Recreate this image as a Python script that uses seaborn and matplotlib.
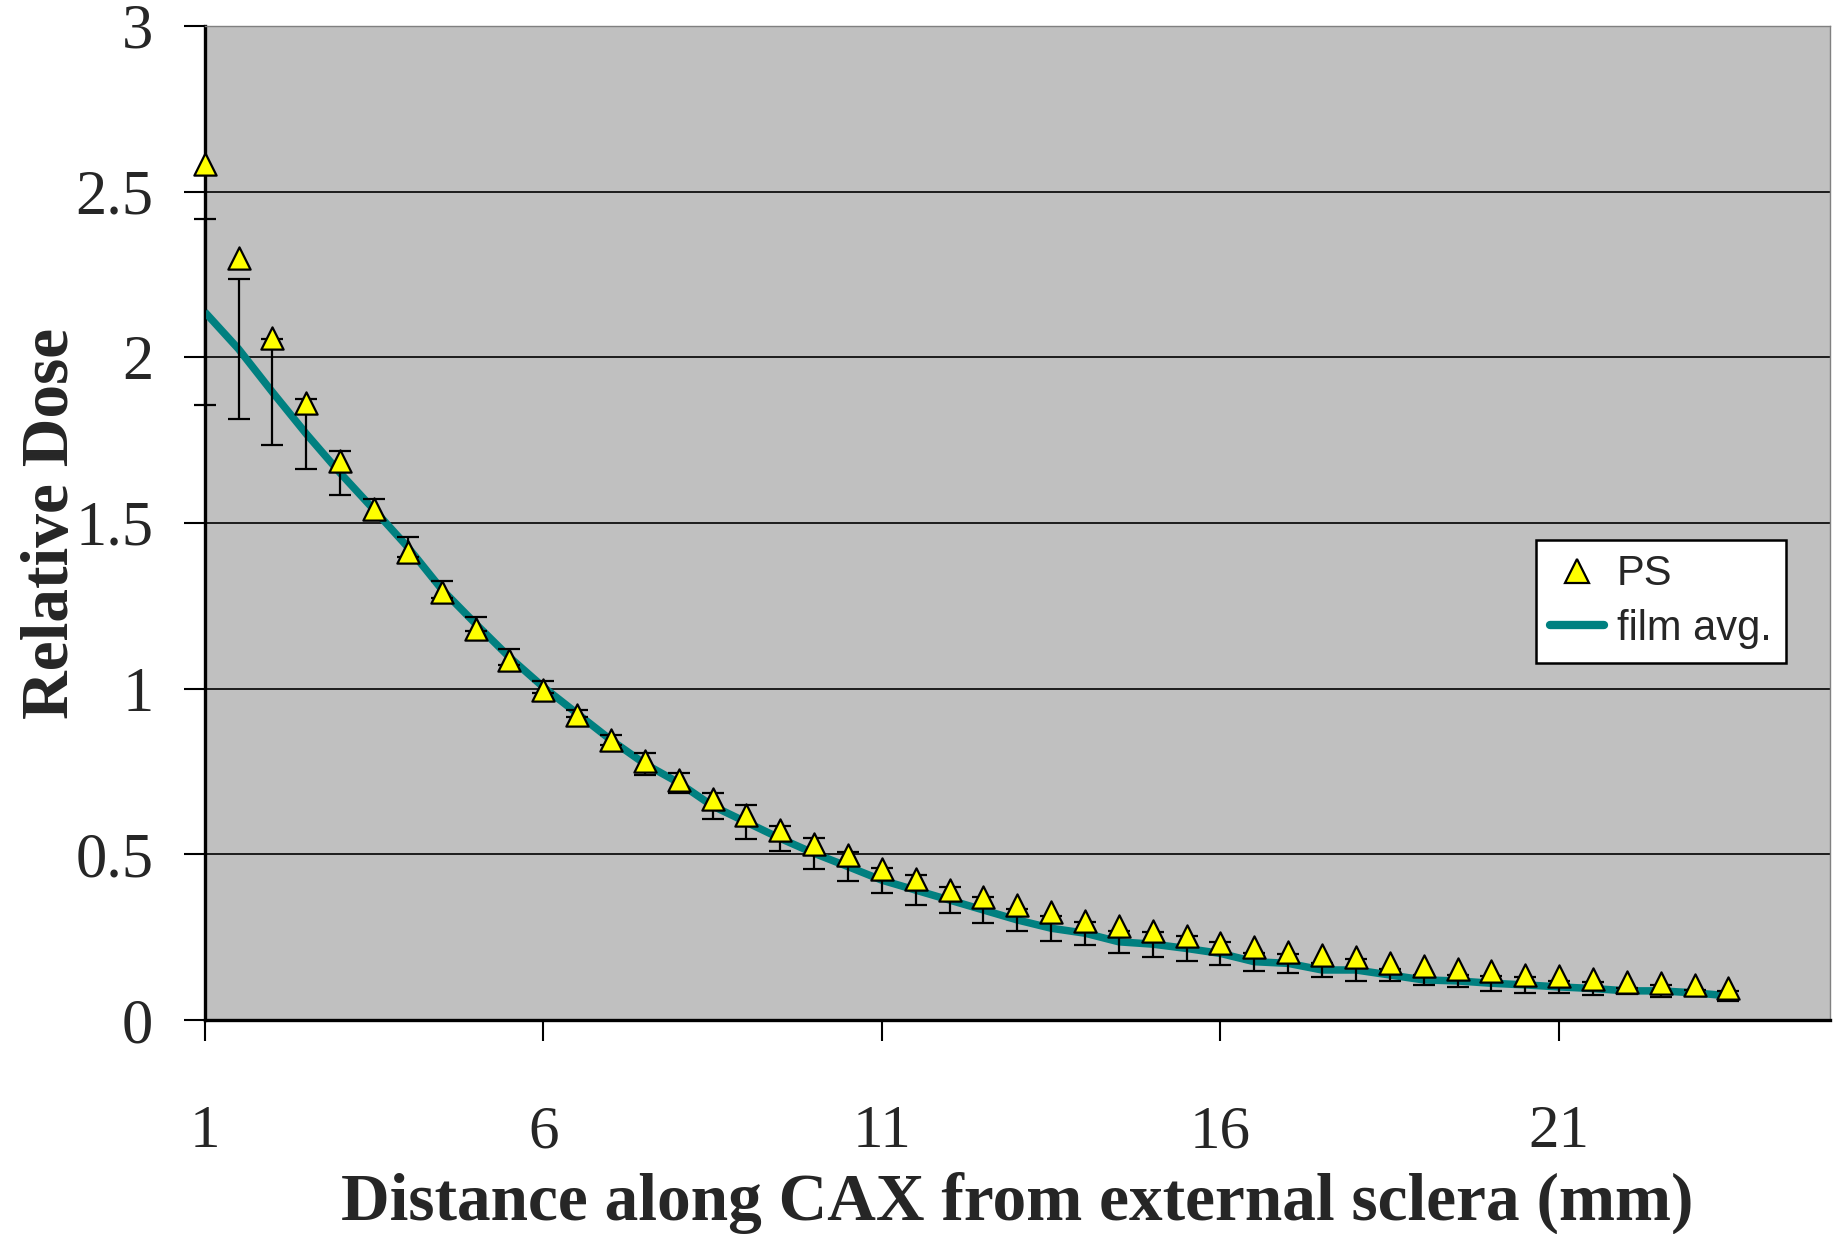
import matplotlib
matplotlib.use("Agg")
import matplotlib.pyplot as plt
import seaborn as sns
import pandas as pd
from matplotlib.lines import Line2D

# ---- data ----
distance = [1, 1.5, 2, 2.5, 3, 3.5, 4, 4.5, 5, 5.5, 6, 6.5, 7, 7.5, 8, 8.5, 9, 9.5,
            10, 10.5, 11, 11.5, 12, 12.5, 13, 13.5, 14, 14.5, 15, 15.5, 16, 16.5,
            17, 17.5, 18, 18.5, 19, 19.5, 20, 20.5, 21, 21.5, 22, 22.5, 23, 23.5]
ps = [2.582, 2.299, 2.057, 1.861, 1.688, 1.541, 1.411, 1.292, 1.181, 1.086, 0.997,
      0.919, 0.846, 0.782, 0.724, 0.666, 0.619, 0.573, 0.532, 0.499, 0.455, 0.425,
      0.393, 0.371, 0.347, 0.326, 0.299, 0.283, 0.269, 0.254, 0.232, 0.221, 0.206,
      0.196, 0.191, 0.172, 0.163, 0.154, 0.148, 0.136, 0.132, 0.124, 0.114, 0.112,
      0.105, 0.098]
film_avg = [2.137, 2.025, 1.895, 1.769, 1.651, 1.540, 1.427, 1.300, 1.196, 1.095,
            1.005, 0.925, 0.845, 0.773, 0.716, 0.646, 0.597, 0.548, 0.503, 0.463,
            0.422, 0.392, 0.362, 0.332, 0.302, 0.277, 0.262, 0.236, 0.229, 0.216,
            0.201, 0.176, 0.171, 0.151, 0.151, 0.136, 0.121, 0.118, 0.111, 0.106,
            0.100, 0.095, 0.088, 0.088, 0.082, 0.073]
film_err = [0.28, 0.21, 0.16, 0.105, 0.067, 0.032, 0.030, 0.025, 0.021, 0.024,
            0.018, 0.010, 0.015, 0.034, 0.030, 0.040, 0.051, 0.037, 0.046, 0.043,
            0.038, 0.045, 0.039, 0.038, 0.032, 0.038, 0.035, 0.033, 0.038, 0.037,
            0.034, 0.027, 0.028, 0.020, 0.032, 0.017, 0.014, 0.018, 0.023, 0.024,
            0.018, 0.020, 0.010, 0.018, 0.010, 0.015]
x_ticks = [1, 6, 11, 16, 21]
y_ticks = [0, 0.5, 1, 1.5, 2, 2.5, 3]

df = pd.DataFrame({"distance": distance, "PS": ps, "film": film_avg, "err": film_err})

sns.set_theme(style="white")
plt.rcParams["font.family"] = ["Liberation Serif", "DejaVu Serif"]

fig = plt.figure(figsize=(18.34, 12.34), dpi=100)
ax = fig.add_axes([0.1116, 0.1734, 0.9978 - 0.1116, 0.979 - 0.1734])
ax.set_facecolor("#C0C0C0")

teal = "#008080"
sns.lineplot(data=df, x="distance", y="film", ax=ax, color=teal, linewidth=5.4,
             zorder=3, legend=False, solid_capstyle="butt")
ax.errorbar(df["distance"], df["film"], yerr=df["err"], fmt="none", ecolor="black",
            elinewidth=1.6, capsize=8, capthick=1.6, zorder=4, clip_on=False)
sns.scatterplot(data=df, x="distance", y="PS", ax=ax, marker="^", s=16 ** 2,
                color="#FFFF00", edgecolor="black", linewidth=1.6, zorder=5,
                legend=False, clip_on=False)

ax.set_xlim(1, 25)
ax.set_ylim(0, 3)
ax.set_xticks(x_ticks)
ax.set_yticks(y_ticks)
ax.set_xticklabels([str(t) for t in x_ticks])
ax.set_yticklabels(["0", "0.5", "1", "1.5", "2", "2.5", "3"])

ax.yaxis.grid(True, color="black", linewidth=1.2)
ax.xaxis.grid(False)
ax.set_axisbelow(True)

for side in ["left", "bottom"]:
    ax.spines[side].set_color("black")
    ax.spines[side].set_linewidth(2.4)
for side in ["top", "right"]:
    ax.spines[side].set_color("#808080")
    ax.spines[side].set_linewidth(1.0)

ax.tick_params(axis="y", which="major", direction="out", length=15, width=1.5,
               color="black", pad=22, labelsize=45, left=True)
ax.tick_params(axis="x", which="major", direction="out", length=15, width=1.5,
               color="black", pad=46, labelsize=44, bottom=True)

ax.set_xlabel("Distance along CAX from external sclera (mm)", fontsize=48.5,
              fontweight="bold", labelpad=8)
ax.set_ylabel("Relative Dose", fontsize=48.5, fontweight="bold", labelpad=-5)

handles = [
    Line2D([], [], marker="^", linestyle="none", markersize=17,
           markerfacecolor="#FFFF00", markeredgecolor="black", markeredgewidth=1.6),
    Line2D([], [], color=teal, linewidth=6),
]
leg = ax.legend(handles, ["PS", "film avg."], loc="center",
                bbox_to_anchor=(0.896, 0.421), frameon=True, fancybox=False,
                framealpha=1, edgecolor="black",
                prop={"family": "Liberation Sans", "size": 30},
                handlelength=1.3, handletextpad=0.3, labelspacing=0.35,
                borderpad=0.35, borderaxespad=0)
leg.get_frame().set_linewidth(1.8)
leg.get_frame().set_facecolor("white")
leg.set_zorder(10)

fig.savefig("out.png", dpi=100, facecolor="white")
